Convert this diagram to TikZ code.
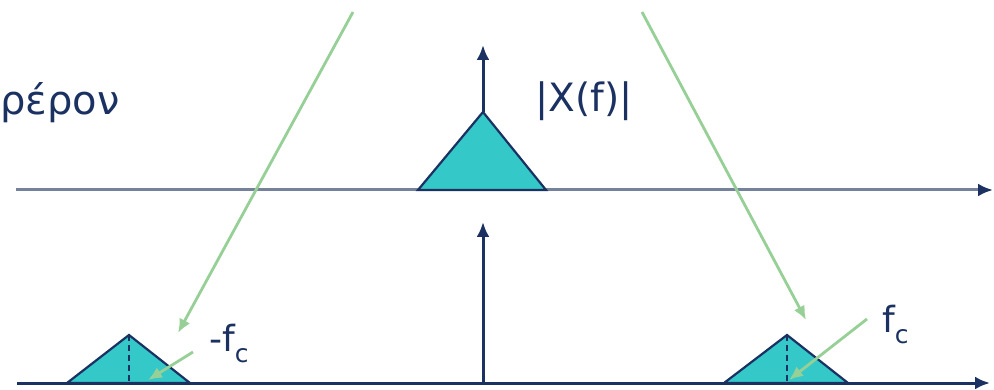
\documentclass[tikz,border=0pt]{standalone}
\usepackage{fontspec}
\setmainfont{DejaVu Sans}
\usepackage{xcolor}
\usetikzlibrary{arrows.meta}

\definecolor{navy}{RGB}{27,49,98}
\definecolor{axisgray}{RGB}{118,130,156}
\definecolor{spectrum}{RGB}{52,200,200}
\definecolor{ptrgreen}{RGB}{150,208,150}

\begin{document}
\begin{tikzpicture}[
  x=1pt, y=-1pt,
  axis/.style={
    -{Latex[length=15pt,width=13pt,color=navy]},
    draw=navy,
    line width=3pt
  },
  band/.style={
    fill=spectrum,
    draw=navy,
    line width=2.2pt,
    line join=miter
  },
  pointer/.style={
    -{Latex[length=14pt,width=12pt]},
    draw=ptrgreen,
    line width=2.8pt
  },
  label/.style={
    text=navy,
    inner sep=0pt,
    anchor=base west
  }
]
\useasboundingbox (0,0) rectangle (994,390);

% Reference points
\coordinate (top0) at (16,190);
\coordinate (top1) at (993,190);
\coordinate (bot0) at (17,383);
\coordinate (bot1) at (990,383);
\coordinate (bpeak) at (483,112);
\coordinate (lpeak) at (129,335);
\coordinate (lfoot) at (129,383);
\coordinate (rpeak) at (787,335);
\coordinate (rfoot) at (787,383);

% Frequency axes
\draw[axis, draw=axisgray] (top0) -- (top1);
\draw[axis] (bot0) -- (bot1);
\draw[axis] (bpeak) -- (483,45);
\draw[axis] (483,383) -- (483,222);

% Spectra
\draw[band] (418,190) -- (bpeak) -- (546,190) -- cycle;
\draw[band] (67,383) -- (lpeak) -- (190,383) -- cycle;
\draw[band] (724,383) -- (rpeak) -- (848,383) -- cycle;
\draw[navy, line width=2pt, dash pattern=on 6pt off 4pt] (lpeak) -- (lfoot);
\draw[navy, line width=2pt, dash pattern=on 6pt off 4pt] (rpeak) -- (rfoot);

% Labels
\node[label, font=\fontsize{40}{44}\selectfont] (carrier) at (0,115) {ρέρον};
\node[label, font=\fontsize{39}{44}\selectfont] (spec) at (535,112) {|X(f)|};
\node[label, font=\fontsize{36}{40}\selectfont] (neg) at (209,352)
  {-f\raisebox{-0.3em}{\fontsize{25}{28}\selectfont c}};
\node[label, font=\fontsize{36}{40}\selectfont] (pos) at (882,333)
  {f\raisebox{-0.3em}{\fontsize{25}{28}\selectfont c}};

% Pointers
\coordinate (lsrc) at (353,12);
\coordinate (rsrc) at (642,12);
\coordinate (ltip) at (178,333);
\coordinate (rtip) at (806,320);
\coordinate (lfrom) at (193,352);
\coordinate (lto) at (148,380);
\coordinate (rfrom) at (867,319);
\coordinate (rto) at (789,380);
\draw[pointer] (lsrc) -- (ltip);
\draw[pointer] (rsrc) -- (rtip);
\draw[pointer] (lfrom) -- (lto);
\draw[pointer] (rfrom) -- (rto);

\end{tikzpicture}
\end{document}
